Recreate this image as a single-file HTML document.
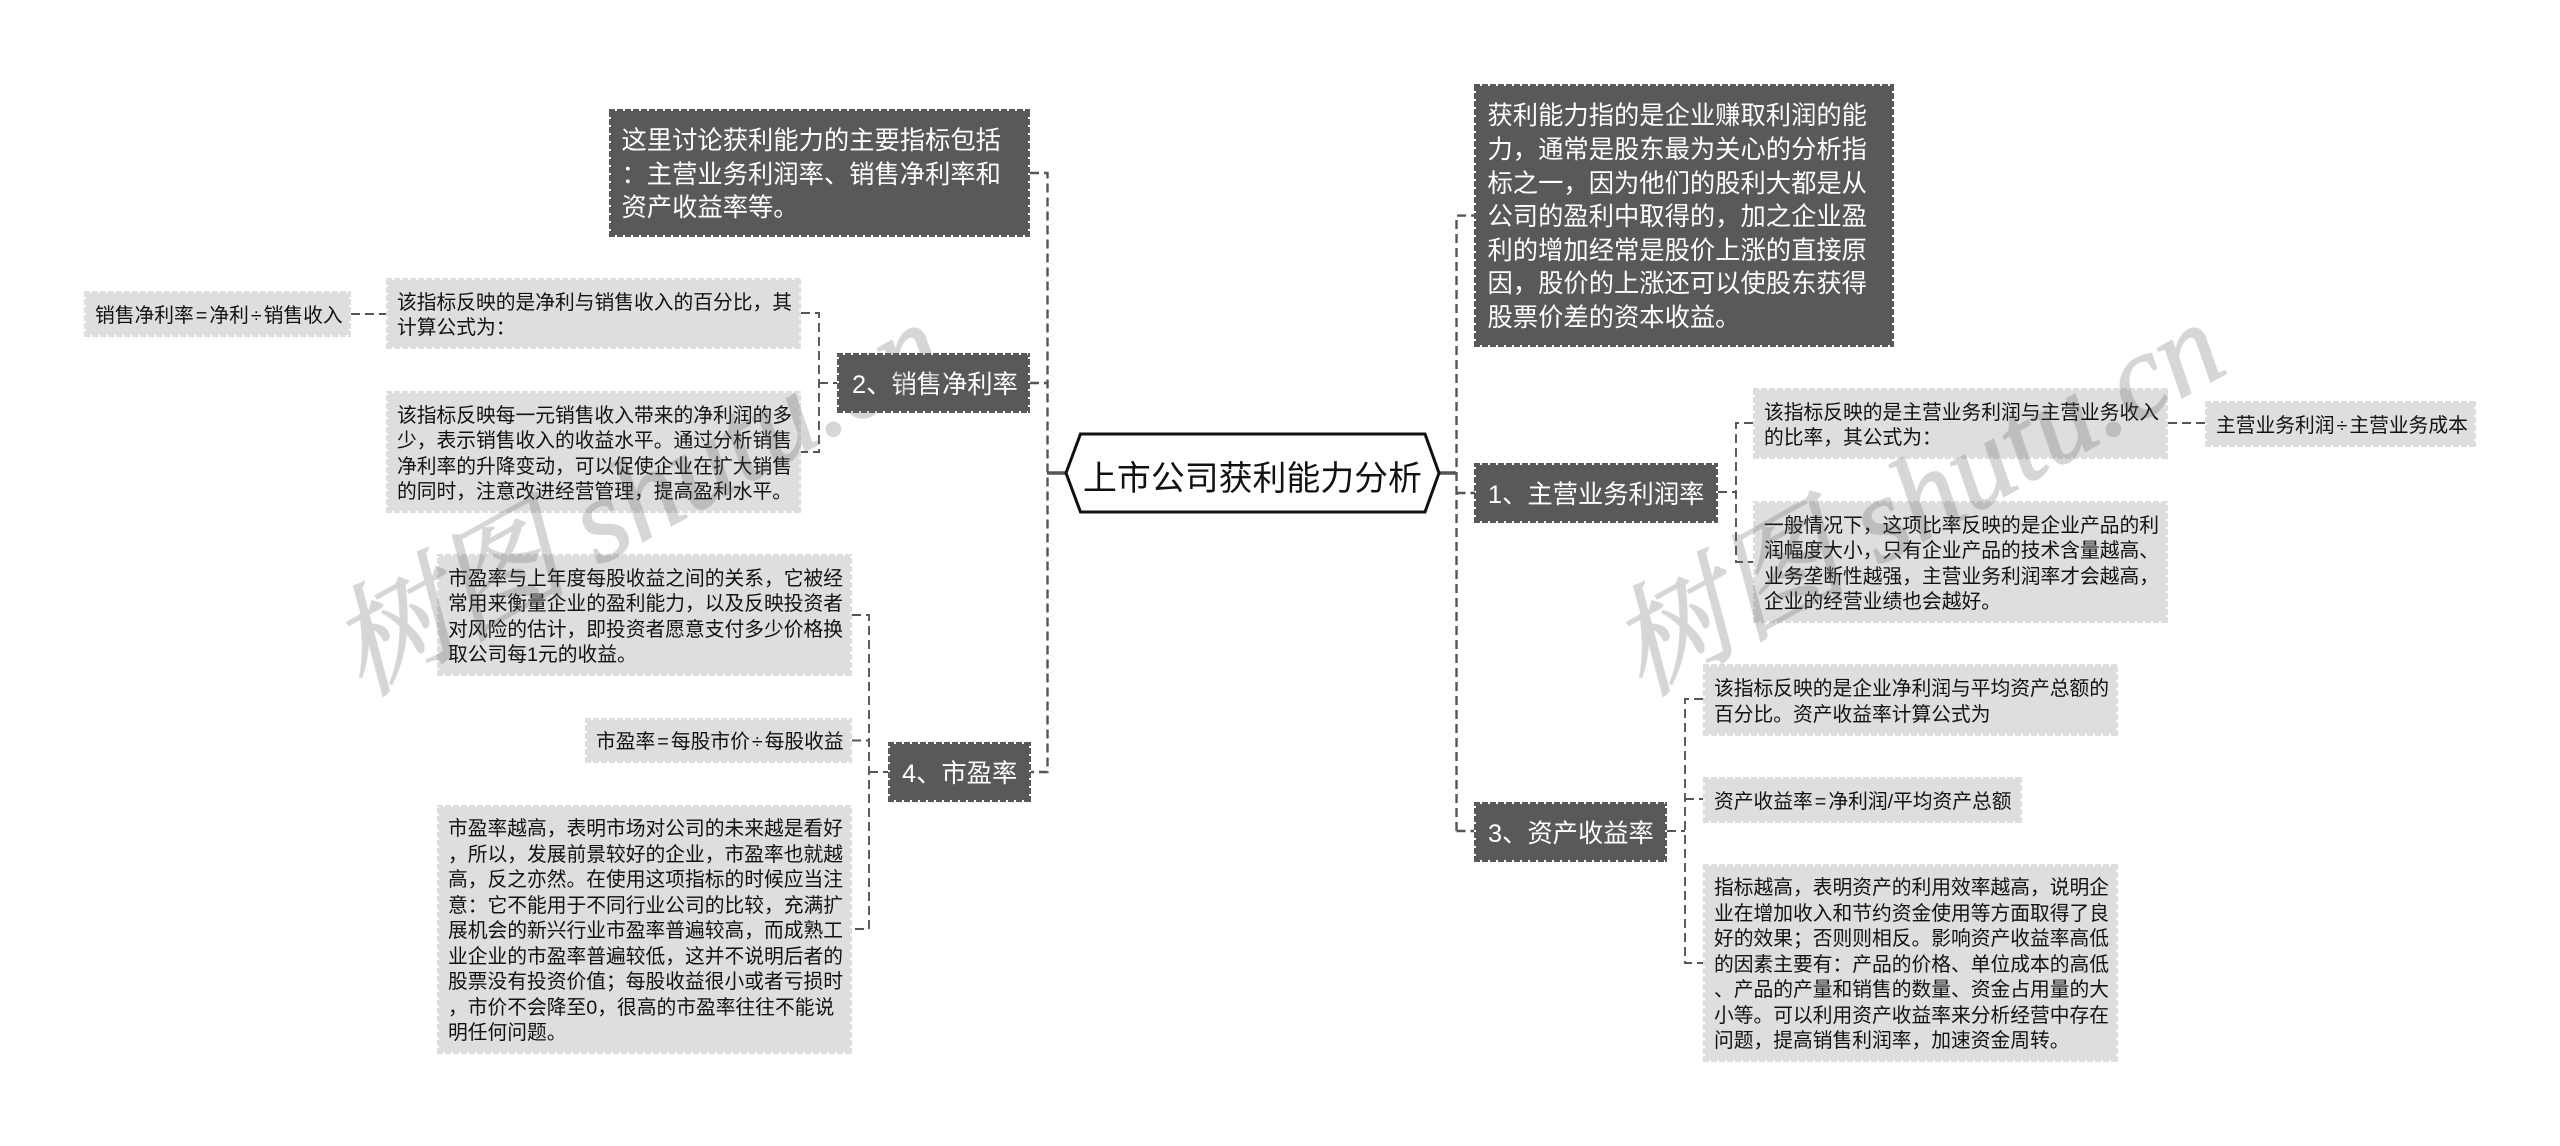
<!DOCTYPE html>
<html lang="zh">
<head>
<meta charset="utf-8">
<title>上市公司获利能力分析</title>
<style>
html,body{margin:0;padding:0;background:#fff}
#page{position:relative;width:2560px;height:1146px;overflow:hidden;background:#fff;font-family:"Liberation Sans","Noto Sans CJK SC",sans-serif}
.b{position:absolute;box-sizing:border-box;display:flex;align-items:center;white-space:nowrap;padding-top:5px;
background:
repeating-linear-gradient(90deg,var(--c) 0 6px,transparent 6px 8px) top/100% 2px no-repeat,
repeating-linear-gradient(90deg,var(--c) 0 6px,transparent 6px 8px) bottom/100% 2px no-repeat,
repeating-linear-gradient(0deg,var(--c) 0 6px,transparent 6px 8px) left/2px 100% no-repeat,
repeating-linear-gradient(0deg,var(--c) 0 6px,transparent 6px 8px) right/2px 100% no-repeat,
linear-gradient(var(--c),var(--c)) center/calc(100% - 4px) calc(100% - 4px) no-repeat}
.d{--c:#595959;color:#fff;font-size:25.3px;line-height:33.6px;padding-left:12.5px}
.l{--c:#dedede;color:#111;font-size:19.75px;line-height:25.5px;padding-left:11px}
.o{margin:0 2px}
svg{position:absolute;left:0;top:0}
</style>
</head>
<body>
<div id="page">
<svg width="2560" height="1146" viewBox="0 0 2560 1146" fill="none">
<g stroke="#555" stroke-width="2.4" stroke-dasharray="9 5">
<path d="M1030 173H1047.500V772H1031"/>
<path d="M1030 383H1047"/>
<path d="M1456.500 831V215.600H1475"/>
<path d="M1456.500 493H1475"/>
<path d="M1456.500 831H1474"/>
</g>
<g stroke="#555" stroke-width="1.9" stroke-dasharray="9 5">
<path d="M351 314H386"/>
<path d="M801 313H819V452H801"/>
<path d="M819 383H837"/>
<path d="M852 615H869V929H852"/>
<path d="M852 740.500H869"/>
<path d="M869 772H888"/>
<path d="M1718 492H1736"/>
<path d="M1753 423H1736V562H1753"/>
<path d="M2168 423H2205"/>
<path d="M1667 831H1685"/>
<path d="M1703 699H1685V963H1703"/>
<path d="M1685 799H1703"/>
</g>
<path d="M1047 473H1066M1439 473H1456" stroke="#555" stroke-width="3.500"/>
<polygon points="1066,473 1080.500,434 1425,434 1439,473 1425,512 1080.500,512" fill="#fff" stroke="#111" stroke-width="3"/>
</svg>

<div style="position:absolute;left:1066px;top:436px;width:373px;height:78px;display:flex;align-items:center;justify-content:center;font-size:33.9px;color:#111;white-space:nowrap">上市公司获利能力分析</div>

<div class="b d" style="left:609px;top:109px;width:421px;height:128px">这里讨论获利能力的主要指标包括<br>：主营业务利润率、销售净利率和<br>资产收益率等。</div>
<div class="b d" style="left:1474px;top:84px;width:420px;height:263px;padding-left:13.5px">获利能力指的是企业赚取利润的能<br>力，通常是股东最为关心的分析指<br>标之一，因为他们的股利大都是从<br>公司的盈利中取得的，加之企业盈<br>利的增加经常是股价上涨的直接原<br>因，股价的上涨还可以使股东获得<br>股票价差的资本收益。</div>
<div class="b d" style="left:837px;top:353px;width:193px;height:60px;padding-left:15px">2、销售净利率</div>
<div class="b d" style="left:888px;top:742px;width:143px;height:60px;padding-left:14px">4、市盈率</div>
<div class="b d" style="left:1474px;top:463px;width:244px;height:60px;padding-left:14px">1、主营业务利润率</div>
<div class="b d" style="left:1474px;top:802px;width:193px;height:60px;padding-left:14px">3、资产收益率</div>

<div class="b l" style="left:84px;top:291px;width:267px;height:46px">销售净利率<span class="o">=</span>净利<span class="o">÷</span>销售收入</div>
<div class="b l" style="left:386px;top:278px;width:415px;height:71px">该指标反映的是净利与销售收入的百分比，其<br>计算公式为：</div>
<div class="b l" style="left:386px;top:391px;width:415px;height:122px">该指标反映每一元销售收入带来的净利润的多<br>少，表示销售收入的收益水平。通过分析销售<br>净利率的升降变动，可以促使企业在扩大销售<br>的同时，注意改进经营管理，提高盈利水平。</div>
<div class="b l" style="left:437px;top:554px;width:415px;height:122px">市盈率与上年度每股收益之间的关系，它被经<br>常用来衡量企业的盈利能力，以及反映投资者<br>对风险的估计，即投资者愿意支付多少价格换<br>取公司每1元的收益。</div>
<div class="b l" style="left:585px;top:718px;width:267px;height:45px">市盈率<span class="o">=</span>每股市价<span class="o">÷</span>每股收益</div>
<div class="b l" style="left:437px;top:805px;width:415px;height:249px">市盈率越高，表明市场对公司的未来越是看好<br>，所以，发展前景较好的企业，市盈率也就越<br>高，反之亦然。在使用这项指标的时候应当注<br>意：它不能用于不同行业公司的比较，充满扩<br>展机会的新兴行业市盈率普遍较高，而成熟工<br>业企业的市盈率普遍较低，这并不说明后者的<br>股票没有投资价值；每股收益很小或者亏损时<br>，市价不会降至0，很高的市盈率往往不能说<br>明任何问题。</div>
<div class="b l" style="left:1753px;top:388px;width:415px;height:71px">该指标反映的是主营业务利润与主营业务收入<br>的比率，其公式为：</div>
<div class="b l" style="left:1753px;top:501px;width:415px;height:122px">一般情况下，这项比率反映的是企业产品的利<br>润幅度大小，只有企业产品的技术含量越高、<br>业务垄断性越强，主营业务利润率才会越高，<br>企业的经营业绩也会越好。</div>
<div class="b l" style="left:2205px;top:401px;width:271px;height:46px">主营业务利润<span class="o">÷</span>主营业务成本</div>
<div class="b l" style="left:1703px;top:664px;width:415px;height:72px">该指标反映的是企业净利润与平均资产总额的<br>百分比。资产收益率计算公式为</div>
<div class="b l" style="left:1703px;top:777px;width:319px;height:46px">资产收益率<span class="o">=</span>净利润/平均资产总额</div>
<div class="b l" style="left:1703px;top:864px;width:415px;height:198px">指标越高，表明资产的利用效率越高，说明企<br>业在增加收入和节约资金使用等方面取得了良<br>好的效果；否则则相反。影响资产收益率高低<br>的因素主要有：产品的价格、单位成本的高低<br>、产品的产量和销售的数量、资金占用量的大<br>小等。可以利用资产收益率来分析经营中存在<br>问题，提高销售利润率，加速资金周转。</div>

<svg width="2560" height="1146" viewBox="0 0 2560 1146" style="pointer-events:none">
<g font-family="'Liberation Serif','Noto Serif CJK SC',serif" font-style="italic" font-size="120" fill="#595959" stroke="#595959" stroke-width="1.500" opacity="0.25">
<text transform="translate(362,697) rotate(-29)">树图 shutu.cn</text>
<text transform="translate(1642,697) rotate(-29)">树图 shutu.cn</text>
</g>
</svg>
</div>
</body>
</html>
